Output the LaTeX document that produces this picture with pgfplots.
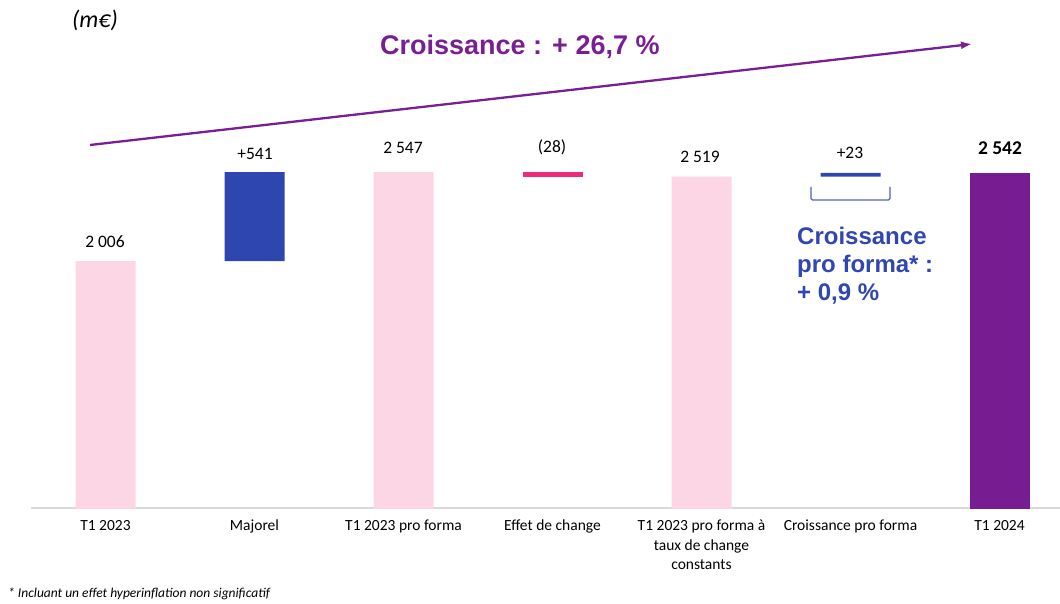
\documentclass[border=0pt]{standalone}
\usepackage{pgfplots}
\pgfplotsset{compat=1.18}
\usetikzlibrary{arrows.meta}
\usepackage{fontspec}
\setmainfont{Carlito}
\newfontfamily\arial{Liberation Sans}
\definecolor{pinkbar}{HTML}{FDD6E5}
\definecolor{bluebar}{HTML}{2E46B0}
\definecolor{magbar}{HTML}{EE2A7B}
\definecolor{purplebar}{HTML}{781D91}
\definecolor{arrowpurple}{HTML}{7A1F93}
\definecolor{textblue}{HTML}{3046B0}
\definecolor{axisgray}{HTML}{D9D9D9}
\begin{document}
\begin{tikzpicture}[x=1pt,y=1pt]
\path[use as bounding box] (0,0) rectangle (1060,603);
\begin{axis}[
  at={(31pt,95pt)}, anchor=south west,
  x=149pt, y=0.1645pt,
  xmin=-0.5, xmax=6.41, ymin=505, ymax=2700,
  axis x line*=bottom, axis y line=none,
  axis line style={axisgray, line width=1.2pt},
  ybar stacked, bar width=60pt,
  xtick={0,1,2,3,4,5,6},
  major tick length=0pt,
  xticklabels={T1 2023, Majorel, T1 2023 pro forma, Effet de change, {T1 2023 pro forma à\\taux de change\\constants}, Croissance pro forma, T1 2024},
  xticklabel style={align=center, font=\fontsize{15.5}{19.5}\selectfont, anchor=north, yshift=-8.5pt},
  ytick=\empty,
]
\addplot[draw=none, fill=none] coordinates {(0,0) (1,2006) (2,0) (3,2519) (4,0) (5,2519) (6,0)};
\addplot[draw=none, fill=pinkbar] coordinates {(0,2006) (1,0) (2,2547) (3,0) (4,2519) (5,0) (6,0)};
\addplot[draw=none, fill=bluebar] coordinates {(0,0) (1,541) (2,0) (3,0) (4,0) (5,23) (6,0)};
\addplot[draw=none, fill=magbar] coordinates {(0,0) (1,0) (2,0) (3,28) (4,0) (5,0) (6,0)};
\addplot[draw=none, fill=purplebar] coordinates {(0,0) (1,0) (2,0) (3,0) (4,0) (5,0) (6,2542)};
\end{axis}
% value labels
\begin{scope}[every node/.style={anchor=base, inner sep=0pt, font=\fontsize{17.5}{20}\selectfont}]
\node at (105,603-247.5) {2 006};
\node at (255,603-159.5) {+541};
\node at (403,603-153.5) {2 547};
\node at (552,603-153) {(28)};
\node at (700,603-162.5) {2 519};
\node at (850,603-159) {+23};
\node[font=\fontsize{19.5}{22}\selectfont\bfseries] at (1000,603-154.5) {2 542};
\end{scope}
% unit
\node[anchor=base, inner sep=0pt, font=\fontsize{24}{27}\selectfont\itshape] at (95,603-28) {(m€)};
% arrow and title
\draw[-{Latex[length=11pt,width=8pt]}, line width=2.3pt, arrowpurple] (90,603-145) -- (972,603-44);
\node[anchor=base west, inner sep=0pt, text=arrowpurple, font=\arial\fontsize{27}{30}\selectfont\bfseries] at (380,603-54.5) {Croissance : + 26,7 \%};
% bracket
\draw[textblue!85, line width=1.1pt, rounded corners=1.5pt] (811,603-187) -- (811,603-200) -- (890,603-200) -- (890,603-187);
% blue text
\begin{scope}[every node/.style={anchor=base west, inner sep=0pt, text=textblue, font=\arial\fontsize{24}{28}\selectfont\bfseries}]
\node at (797,603-244.5) {Croissance};
\node at (797,603-272.5) {pro forma* :};
\node at (797,603-300.5) {+ 0,9 \%};
\end{scope}
% footnote
\node[anchor=base west, inner sep=0pt, font=\fontsize{13.5}{16}\selectfont\itshape] at (8,603-597) {* Incluant un effet hyperinflation non significatif};
\end{tikzpicture}
\end{document}
